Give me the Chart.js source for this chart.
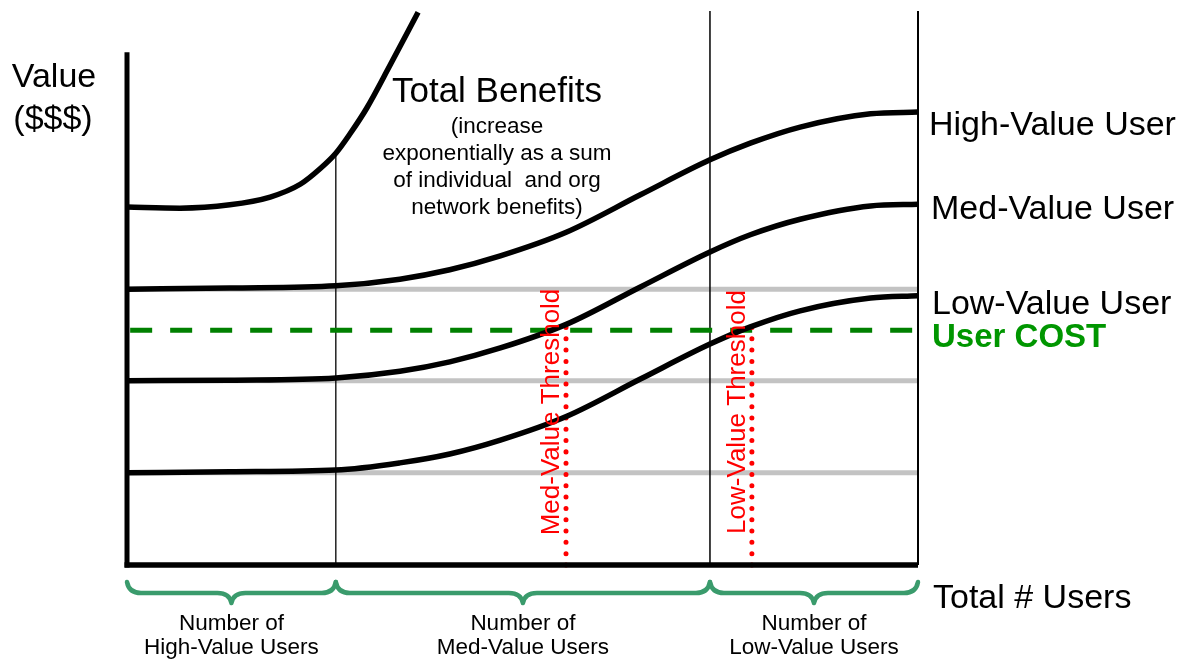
<!DOCTYPE html>
<html>
<head>
<meta charset="utf-8">
<title>User value vs. cost</title>
<script src="https://cdn.jsdelivr.net/npm/chart.js@4/dist/chart.umd.min.js"></script>
<style>
  html, body { margin: 0; padding: 0; background: #ffffff; }
  #wrap { width: 1189px; height: 662px; position: relative; }
</style>
</head>
<body>
<div id="wrap"><canvas id="chart"></canvas></div>
<script>
// Total number of users (x, 0-100) and value in $$$ (y, 0-100)
const userSegments = [0, 26.4, 73.7, 100];          // high / med / low user groups
const segmentNames = ['High-Value Users', 'Med-Value Users', 'Low-Value Users'];

const curveX    = [0, 13.0, 26.4, 34.5, 40.8, 47.2, 55.6, 64.9, 73.7, 78.8, 85.1, 94.0, 100];
const highValue = [49.7, 49.9, 50.3, 51.5, 53.2, 55.7, 60.0, 66.7, 73.0, 76.0, 78.9, 81.3, 81.6];
const medValue  = [33.2, 33.3, 33.7, 34.9, 36.6, 39.1, 43.4, 50.1, 56.4, 59.5, 62.3, 64.7, 65.0];
const lowValue  = [16.6, 16.8, 17.1, 18.4, 20.0, 22.5, 26.8, 33.5, 39.8, 42.9, 45.8, 48.1, 48.5];

const totalX     = [0, 6.7, 13.0, 18.1, 21.9, 24.4, 26.4, 28.2, 30.3, 33.2, 36.8];
const totalValue = [64.5, 64.3, 64.9, 66.3, 68.6, 71.4, 74.2, 77.7, 82.3, 89.9, 99.6];

const baseLevels = [49.7, 33.2, 16.6];              // starting value of each user type
const userCost   = 42.3;
const thresholds = [55.5, 79.0];                     // med-value, low-value break-even
const thresholdNames = ['Med-Value Threshold', 'Low-Value Threshold'];
const axisTop = 92.4;
const dividerTop = 99.8;

const FONT = "'Liberation Sans', Arial, Helvetica, sans-serif";

function pts(xs, ys) { return xs.map((x, i) => ({ x: x, y: ys[i] })); }

const datasets = [];

// user benefit curves
[highValue, medValue, lowValue].forEach((vals, i) => {
  datasets.push({
    label: ['High', 'Med', 'Low'][i],
    data: pts(curveX, vals),
    borderColor: '#000000', borderWidth: 5.5,
    cubicInterpolationMode: 'monotone',
    pointRadius: 0, clip: false, order: 1
  });
});

// total benefits curve
datasets.push({
  label: 'Total',
  data: pts(totalX, totalValue),
  borderColor: '#000000', borderWidth: 5.5,
  cubicInterpolationMode: 'monotone',
  pointRadius: 0, clip: false, order: 1
});

// flat reference levels
baseLevels.forEach(v => {
  datasets.push({
    label: 'base',
    data: [{ x: userSegments[0], y: v }, { x: userSegments[3], y: v }],
    borderColor: '#c3c3c3', borderWidth: 5,
    pointRadius: 0, clip: false, order: 6
  });
});

// user cost
datasets.push({
  label: 'cost',
  data: [{ x: 0.4, y: userCost }, { x: 100, y: userCost }],
  borderColor: '#008000', borderWidth: 5, borderDash: [22, 18],
  pointRadius: 0, clip: false, order: 3
});

// thresholds
thresholds.forEach(t => {
  datasets.push({
    label: 'threshold',
    data: [{ x: t, y: userCost + 0.5 }, { x: t, y: 0 }],
    borderColor: '#ff0000', borderWidth: 5, borderDash: [0.01, 11.3],
    borderCapStyle: 'round',
    pointRadius: 0, clip: false, order: 2
  });
});

// group dividers
[[userSegments[1], totalValue[6], 1.3], [userSegments[2], dividerTop, 1.5], [userSegments[3], dividerTop, 2]].forEach(d => {
  datasets.push({
    label: 'divider',
    data: [{ x: d[0], y: 0 }, { x: d[0], y: d[1] }],
    borderColor: '#000000', borderWidth: d[2],
    pointRadius: 0, clip: false, order: 4
  });
});

const annotations = {
  id: 'annotations',
  afterDatasetsDraw(chart) {
    const ctx = chart.ctx;
    const xs = chart.scales.x, ys = chart.scales.y;
    const px = v => xs.getPixelForValue(v);
    const py = v => ys.getPixelForValue(v);
    ctx.save();

    // axes
    ctx.strokeStyle = '#000000';
    ctx.lineCap = 'butt';
    ctx.lineWidth = 5;
    ctx.beginPath();
    ctx.moveTo(px(0), py(axisTop));
    ctx.lineTo(px(0), py(0) + 2.5);
    ctx.stroke();
    ctx.lineWidth = 5.5;
    ctx.beginPath();
    ctx.moveTo(px(0) - 2.5, py(0));
    ctx.lineTo(px(100), py(0));
    ctx.stroke();

    // group braces under the axis
    ctx.strokeStyle = '#3a9b6c';
    ctx.lineWidth = 4.5;
    ctx.lineCap = 'round';
    ctx.lineJoin = 'round';
    const yTop = 582, yMid = 593, yTip = 603, r = 14;
    for (let i = 0; i < 3; i++) {
      const x0 = px(userSegments[i]), x1 = px(userSegments[i + 1]);
      const xm = (x0 + x1) / 2;
      ctx.beginPath();
      ctx.moveTo(x0, yTop);
      ctx.quadraticCurveTo(x0 + 2, yMid, x0 + r, yMid);
      ctx.lineTo(xm - r, yMid);
      ctx.quadraticCurveTo(xm - 2, yMid, xm, yTip);
      ctx.quadraticCurveTo(xm + 2, yMid, xm + r, yMid);
      ctx.lineTo(x1 - r, yMid);
      ctx.quadraticCurveTo(x1 - 2, yMid, x1, yTop);
      ctx.stroke();

      ctx.fillStyle = '#000000';
      ctx.font = '22.5px ' + FONT;
      ctx.textAlign = 'center';
      ctx.textBaseline = 'alphabetic';
      ctx.fillText('Number of', xm, 630);
      ctx.fillText(segmentNames[i], xm, 654);
    }

    // axis titles
    ctx.fillStyle = '#000000';
    ctx.font = '34px ' + FONT;
    ctx.textAlign = 'center';
    ctx.fillText('Value', 54, 87);
    ctx.fillText('($$$)', 53, 129);
    ctx.textAlign = 'left';
    ctx.fillText('Total # Users', 933, 608);

    // series labels
    ctx.fillText('High-Value User', 929, 135);
    ctx.fillText('Med-Value User', 931, 219);
    ctx.fillText('Low-Value User', 932, 314);
    ctx.fillStyle = '#009600';
    ctx.font = 'bold 33px ' + FONT;
    ctx.fillText('User COST', 932, 347);

    // total benefits note
    ctx.fillStyle = '#000000';
    ctx.textAlign = 'center';
    ctx.font = '35px ' + FONT;
    ctx.fillText('Total Benefits', 497, 102);
    ctx.font = '22.5px ' + FONT;
    ['(increase', 'exponentially as a sum', 'of individual  and org', 'network benefits)']
      .forEach((t, i) => ctx.fillText(t, 497, 133 + i * 27));

    // threshold labels
    ctx.fillStyle = '#ff0000';
    ctx.font = '26px ' + FONT;
    ctx.textBaseline = 'middle';
    thresholds.forEach((t, i) => {
      ctx.save();
      ctx.translate(px(t) - 14, 412);
      ctx.rotate(-Math.PI / 2);
      ctx.fillText(thresholdNames[i], 0, 0);
      ctx.restore();
    });

    ctx.restore();
  }
};

new Chart(document.getElementById('chart'), {
  type: 'line',
  data: { datasets: datasets },
  options: {
    responsive: true,
    maintainAspectRatio: false,
    animation: false,
    layout: { padding: { left: 127, right: 271, top: 10, bottom: 97 } },
    plugins: { legend: { display: false }, tooltip: { enabled: false } },
    scales: {
      x: { type: 'linear', min: 0, max: 100, display: false },
      y: { type: 'linear', min: 0, max: 100, display: false }
    }
  },
  plugins: [annotations]
});
</script>
</body>
</html>
